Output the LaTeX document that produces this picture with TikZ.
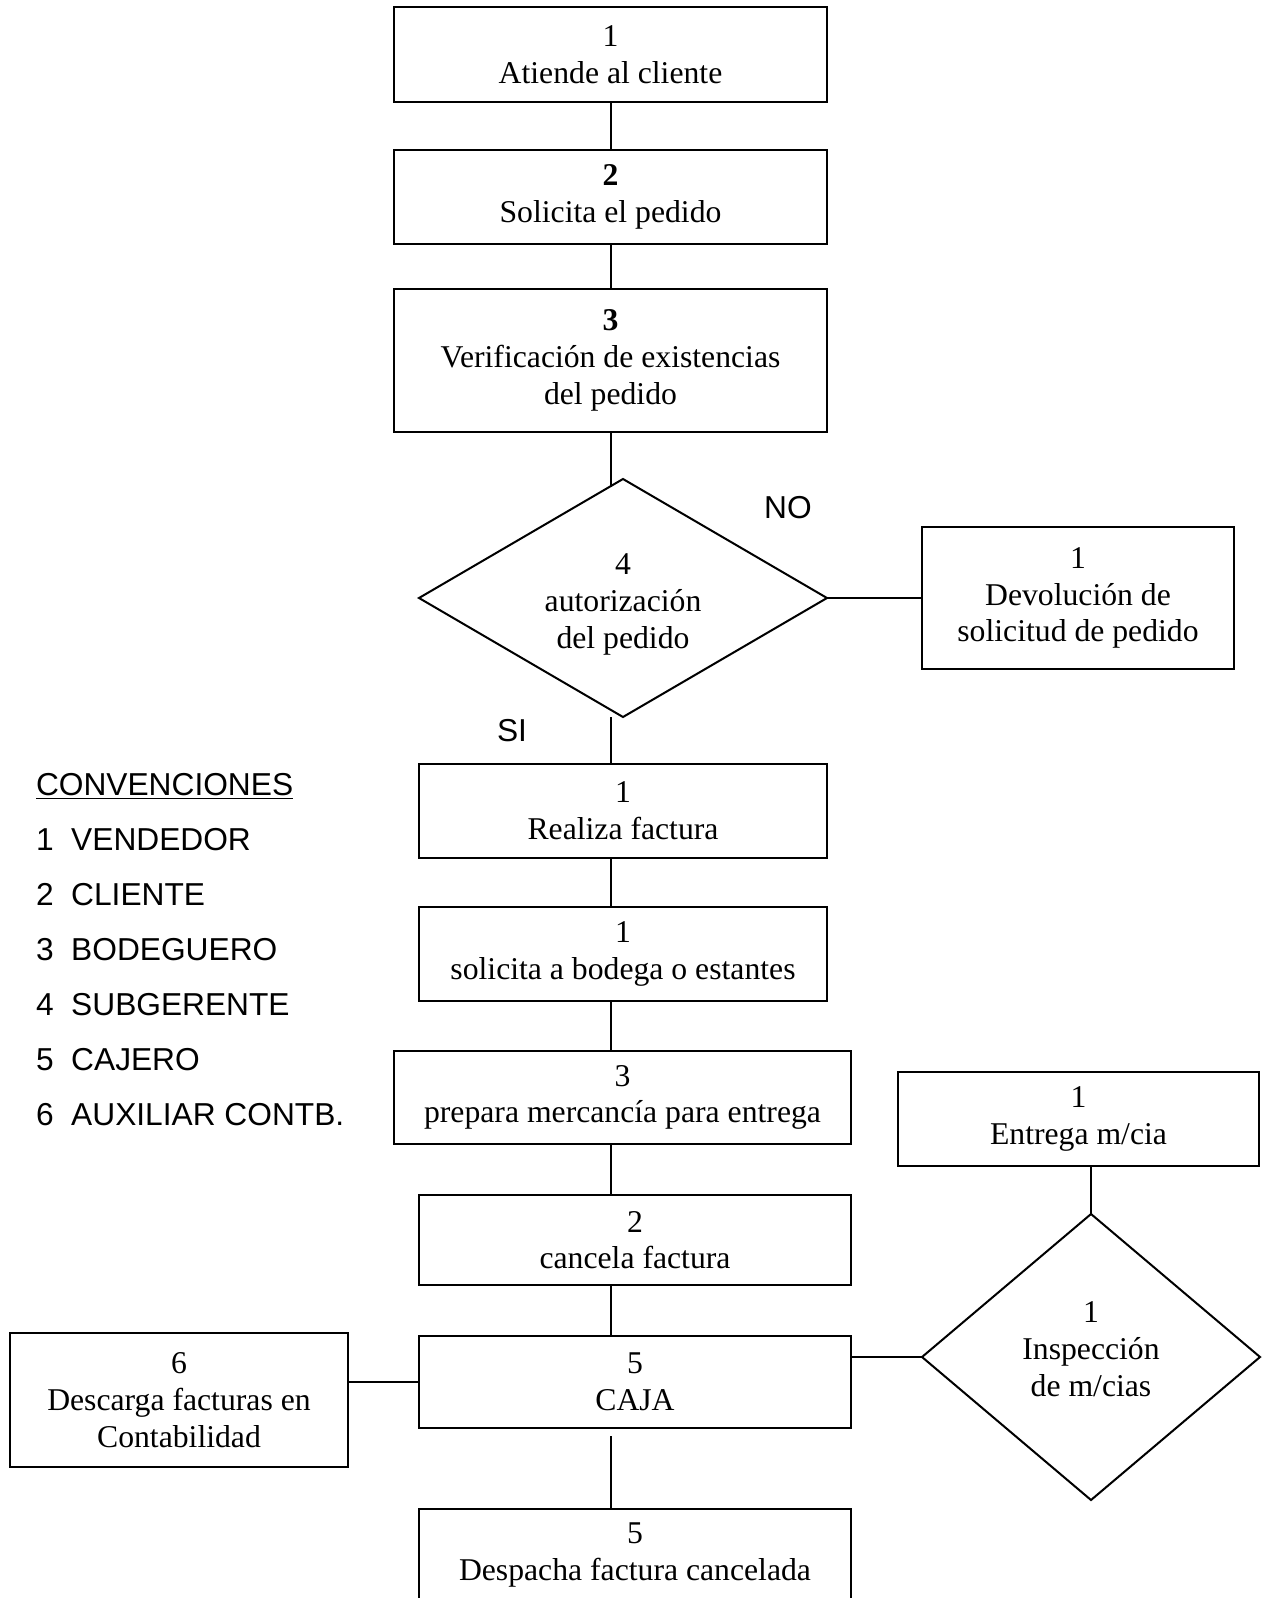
\documentclass[tikz,border=0pt]{standalone}
\usepackage{fontspec}
\setmainfont{Liberation Serif}
\newfontfamily\labelsans{Liberation Sans}
\usetikzlibrary{shapes.geometric,calc}
\begin{document}
\begin{tikzpicture}[x=0.5pt,y=-0.5pt,
  every node/.style={font=\fontsize{15.85}{18.35}\selectfont, align=center, inner sep=0pt, outer sep=0pt},
  box/.style={draw, rectangle, line width=1pt},
  dec/.style={draw, diamond, line width=1pt},
  lbl/.style={font=\labelsans\fontsize{15.85}{18.35}\selectfont, anchor=base west},
  tag/.style={font=\labelsans\fontsize{15.85}{18.35}\selectfont, anchor=base},
  link/.style={line width=1pt}]
\useasboundingbox (0,0) rectangle (1265,1598);
\clip (0,0) rectangle (1265,1598);

% main flow
\node[box, minimum width=216.5pt, minimum height=47.5pt] (b1) at (610.5,54.5) {1\\Atiende al cliente};
\node[box, minimum width=216.5pt, minimum height=47pt] (b2) at (610.5,197) {\textbf{2}\\Solicita el pedido};
\node[box, minimum width=216.5pt, minimum height=71.5pt] (b3) at (610.5,360.5) {\textbf{3}\\Verificación de existencias\\del pedido};
\node[dec, minimum width=204pt, minimum height=119pt, shape aspect=1.714] (d4) at (623,598) {\rule{0pt}{16.7pt}4\\autorización\\del pedido};
\node[box, minimum width=156pt, minimum height=71pt] (dev) at (1078,598) {1\\Devolución de\\solicitud de pedido};
\node[box, minimum width=204pt, minimum height=47pt] (real) at (623,811) {1\\Realiza factura};
\node[box, minimum width=204pt, minimum height=47pt] (bod) at (623,954) {1\\solicita a bodega o estantes};
\node[box, minimum width=228.5pt, minimum height=46.5pt] (prep) at (622.5,1097.5) {3\\prepara mercancía para entrega};
\node[box, minimum width=180.5pt, minimum height=47pt] (ent) at (1078.5,1119) {1\\Entrega m/cia};
\node[box, minimum width=216pt, minimum height=45pt] (canc) at (635,1240) {2\\cancela factura};
\node[box, minimum width=216pt, minimum height=46pt] (caja) at (635,1382) {5\\CAJA};
\node[box, minimum width=169pt, minimum height=67pt] (desc) at (179,1400) {6\\Descarga facturas en\\Contabilidad};
\node[dec, minimum width=169pt, minimum height=143pt, shape aspect=1.18] (insp) at (1091,1357) {1\\Inspección\\de m/cias\rule[-8pt]{0pt}{0pt}};
\node[box, minimum width=216pt, minimum height=46pt] (desp) at (635,1555) {5\\Despacha factura cancelada};

% branch labels
\node[tag] (no) at (788,518) {NO};
\node[tag] (si) at (512,741) {SI};

% legend
\node[lbl] (conv) at (36,795) {\underline{CONVENCIONES}};
\node[lbl] (l1) at (36,850) {1~~VENDEDOR};
\node[lbl] (l2) at (36,905) {2~~CLIENTE};
\node[lbl] (l3) at (36,960) {3~~BODEGUERO};
\node[lbl] (l4) at (36,1015) {4~~SUBGERENTE};
\node[lbl] (l5) at (36,1070) {5~~CAJERO};
\node[lbl] (l6) at (36,1125) {6~~AUXILIAR CONTB.};

% connectors
\draw[link] (b1.south) -- (b2.north);
\draw[link] (b2.south) -- (b3.north);
\draw[link] (b3.south) -- (b3.south |- {$(d4.north)!0.064!(d4.west)$});
\draw[link] (d4.east) -- (dev.west |- d4.east);
\draw[link] (d4.south -| b1.south) -- (real.north -| b1.south);
\draw[link] (real.south -| b1.south) -- (bod.north -| b1.south);
\draw[link] (bod.south -| b1.south) -- (prep.north -| b1.south);
\draw[link] (prep.south -| b1.south) -- (canc.north -| b1.south);
\draw[link] (canc.south -| b1.south) -- (caja.north -| b1.south);
\draw[link] ([yshift=-4pt]caja.south -| b1.south) -- (desp.north -| b1.south);
\draw[link] (ent.south -| insp.north) -- (insp.north);
\draw[link] (caja.east |- insp.west) -- (insp.west);
\draw[link] (desc.east |- caja.west) -- (caja.west);
\end{tikzpicture}
\end{document}
